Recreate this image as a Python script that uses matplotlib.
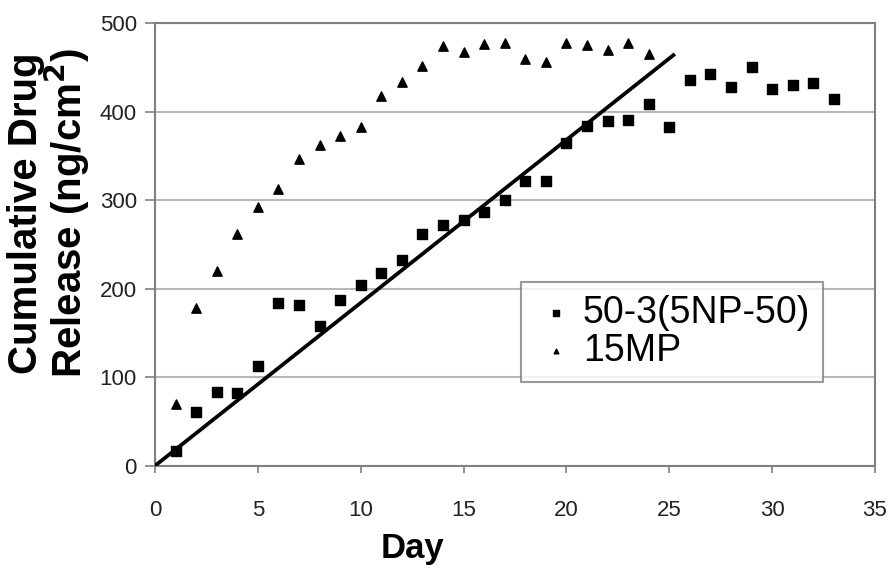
import numpy as np
import matplotlib
matplotlib.use("Agg")
import matplotlib.pyplot as plt

plt.rcParams['font.family'] = ['Liberation Sans', 'DejaVu Sans']

days_np = list(range(1, 34))
release_np = [17, 61, 83, 82, 113, 184, 181, 158, 187, 204, 218, 232, 262, 272, 277,
              287, 300, 322, 322, 364, 384, 389, 390, 409, 382, 436, 442, 428, 450,
              425, 430, 432, 414]

days_mp = list(range(1, 25))
release_mp = [70, 178, 220, 262, 292, 313, 346, 362, 372, 383, 418, 433, 452, 474, 467,
              476, 477, 459, 456, 477, 475, 469, 477, 465]

fit_days = [0, 25.2]
fit_slope = 18.4

fig = plt.figure(figsize=(8.91, 5.75), dpi=100)
ax = fig.add_axes([0.174, 0.19, 0.808, 0.77])

ax.scatter(days_np, release_np, marker='s', s=55, color='black', label='50-3(5NP-50)', zorder=3)
ax.scatter(days_mp, release_mp, marker='^', s=45, color='black', label='15MP', zorder=3)
fx = np.array(fit_days)
ax.plot(fx, fit_slope * fx, color='black', lw=2.7, zorder=3)

ax.set_xlim(0, 35)
ax.set_ylim(0, 500)
ax.set_xticks(range(0, 36, 5))
ax.set_yticks(range(0, 501, 100))
ax.grid(axis='y', color='#b8b8b8', lw=1.5)
ax.set_axisbelow(True)
for s in ax.spines.values():
    s.set_color('#808080')
    s.set_linewidth(1.5)
ax.tick_params(direction='out', width=1.2, color='#808080', labelsize=16, labelcolor='#222222')
ax.tick_params(axis='x', length=5, pad=20)
ax.tick_params(axis='y', length=7, pad=6)

ax.set_xlabel('Day', fontsize=25, fontweight='bold', va='top')
ax.xaxis.set_label_coords(0.358, -0.15)
ax.set_ylabel('Cumulative Drug\nRelease (ng/cm$^\\mathbf{2}$)', fontsize=29, fontweight='bold',
              linespacing=0.95)
ax.yaxis.set_label_coords(-0.088, 0.57)

leg = ax.legend(loc='upper left', bbox_to_anchor=(0.508, 0.415), borderaxespad=0,
                fontsize=27, markerscale=0.5, frameon=True, fancybox=False,
                edgecolor='#808080', handletextpad=0.1, handlelength=1.2,
                labelspacing=0.05, borderpad=0.35)
leg.get_frame().set_linewidth(1.5)

fig.savefig('out.png', dpi=100)
